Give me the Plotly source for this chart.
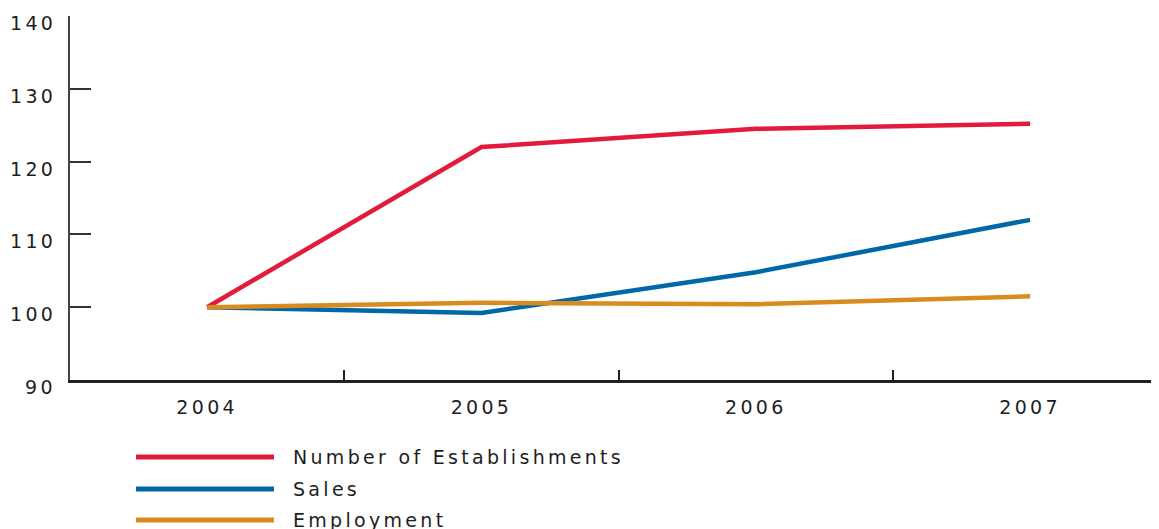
import plotly.graph_objects as go

# ---- data ----
years = ["2004", "2005", "2006", "2007"]
series_names = ["Number of Establishments", "Sales", "Employment"]
establishments = [100.0, 122.0, 124.5, 125.2]
sales = [100.0, 99.2, 104.8, 112.0]
employment = [100.0, 100.6, 100.4, 101.5]
y_ticks = [90, 100, 110, 120, 130, 140]

colors = ["#E31B3B", "#0068A8", "#D98B1F"]
values = [establishments, sales, employment]

FONT = "DejaVu Sans"
TXT = "#1e1e1e"
LS = "3.3px"


def spaced(t):
    return '<span style="letter-spacing:%s">%s</span>' % (LS, t)


fig = go.Figure()
for name, vals, col in zip(series_names, values, colors):
    fig.add_trace(go.Scatter(
        x=years, y=vals, mode="lines", name=name,
        line=dict(color=col, width=4.5), showlegend=False, hoverinfo="skip",
    ))

# page body adds an 8px offset; compensate
OFF = 8
W, H = 1159 - OFF, 529 - OFF
L, R, T, B = 70 - OFF, 0, 16 - OFF, 149
pw = W - L - R
ph = H - T - B


def px_to_paper_x(px):
    return (px - OFF - L) / pw


def px_to_paper_y(py):
    return (H - B - (py - OFF)) / ph


# y tick labels hang just below their tick marks (placed on the y scale)
for v in y_ticks:
    fig.add_annotation(xref="paper", yref="y", x=0, y=v, xshift=-12, yshift=-7,
                       xanchor="right", yanchor="middle", showarrow=False,
                       text=spaced(str(v)), font=dict(family=FONT, size=19, color=TXT))

# custom legend (long line samples)
legend_rows_y = [457, 489, 520]
for name, col, ry in zip(series_names, colors, legend_rows_y):
    yp = px_to_paper_y(ry)
    fig.add_shape(type="line", xref="paper", yref="paper",
                  x0=px_to_paper_x(136), x1=px_to_paper_x(274), y0=yp, y1=yp,
                  line=dict(color=col, width=5))
    fig.add_annotation(xref="paper", yref="paper", x=px_to_paper_x(291), y=yp,
                       xanchor="left", yanchor="middle", showarrow=False,
                       text=spaced(name), font=dict(family=FONT, size=19, color=TXT))

fig.update_layout(
    width=W, height=H,
    margin=dict(l=L, r=R, t=T, b=B, pad=0),
    paper_bgcolor="white", plot_bgcolor="white",
    font=dict(family=FONT, size=19, color=TXT),
    hovermode=False,
)
fig.update_xaxes(
    type="category", range=[-0.5, 3.47],
    tickvals=years, ticktext=[spaced(y) for y in years],
    tickson="boundaries", ticks="inside", ticklen=10, tickwidth=2, tickcolor="#222",
    showline=True, linecolor="#222", linewidth=2.5,
    showgrid=False, zeroline=False, ticklabelstandoff=8,
)
fig.update_yaxes(
    range=[90, 140], tickvals=y_ticks, showticklabels=False,
    ticks="inside", ticklen=21, tickwidth=2, tickcolor="#333",
    showline=True, linecolor="#444", linewidth=2,
    showgrid=False, zeroline=False,
)

fig.write_html("out.html")
